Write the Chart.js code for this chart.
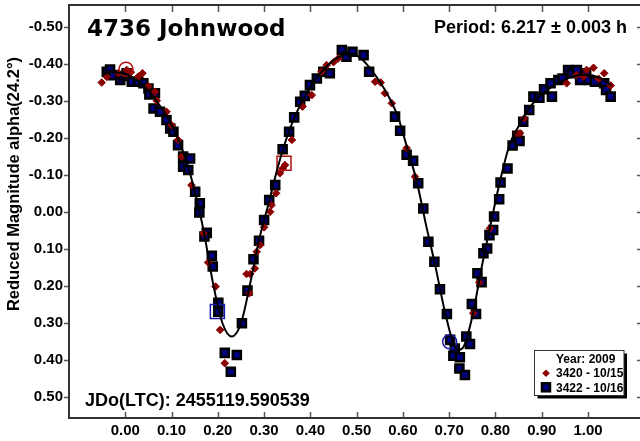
<!DOCTYPE html>
<html><head><meta charset="utf-8">
<script src="https://cdn.jsdelivr.net/npm/chart.js@4/dist/chart.umd.min.js"></script>
<style>html,body{margin:0;padding:0;overflow:hidden;background:#fff;width:640px;height:441px}canvas{display:block}</style>
</head><body>
<canvas id="c" width="650" height="441" style="width:650px;height:441px"></canvas>
<script>
const titleText = '4736 Johnwood';
const periodText = 'Period: 6.217 \u00b1 0.003 h';
const epochText = 'JDo(LTC): 2455119.590539';
const yAxisTitle = 'Reduced Magnitude alpha(24.2\u00b0)';
const legendTitle = 'Year: 2009';
const seriesNames = ['3420 - 10/15', '3422 - 10/16'];

const xTicks = [0, 0.1, 0.2, 0.3, 0.4, 0.5, 0.6, 0.7, 0.8, 0.9, 1.0];
const yTicks = [-0.5, -0.4, -0.3, -0.2, -0.1, 0, 0.1, 0.2, 0.3, 0.4, 0.5];

// Session 3420 (10/15) - diamonds
const phase3420 = [-0.051,-0.040,-0.015,0.003,0.012,0.028,0.037,0.050,0.064,0.068,
  0.089,0.100,0.114,0.122,0.143,0.169,0.179,0.195,0.205,0.215,
  0.262,0.270,0.268,0.280,0.284,0.291,0.300,0.313,0.316,0.326,
  0.334,0.340,0.345,0.360,0.383,0.403,0.424,0.435,0.450,0.460,
  0.540,0.552,0.561,0.576,0.608,0.626,0.752,0.765,0.788,0.846,
  0.853,0.862,0.954,0.975,0.990,0.997,1.012,1.023,1.035,1.049];
const mag3420 = [-0.350,-0.365,-0.375,-0.384,-0.378,-0.366,-0.375,-0.340,-0.325,-0.301,
  -0.271,-0.235,-0.195,-0.150,-0.073,0.057,0.136,0.201,0.318,0.408,
  0.167,0.167,0.219,0.152,0.107,0.089,0.041,-0.001,-0.019,-0.051,
  -0.105,-0.118,-0.127,-0.195,-0.285,-0.316,-0.379,-0.397,-0.405,-0.415,
  -0.352,-0.350,-0.321,-0.294,-0.173,-0.096,0.273,0.190,0.044,-0.213,
  -0.213,-0.253,-0.348,-0.370,-0.366,-0.384,-0.390,-0.360,-0.375,-0.342];

// Session 3422 (10/16) - squares
const phase3422 = [-0.040,-0.033,-0.026,-0.011,-0.004,0.003,0.014,0.028,0.039,0.050,
  0.052,0.064,0.061,0.075,0.089,0.097,0.104,0.114,0.125,0.140,
  0.125,0.136,0.151,0.161,0.160,0.176,0.171,0.187,0.189,0.201,
  0.201,0.215,0.241,0.228,0.252,0.264,0.277,0.289,0.300,0.311,
  0.324,0.340,0.354,0.365,0.378,0.388,0.399,0.414,0.428,0.442,
  0.468,0.478,0.491,0.515,0.527,0.583,0.594,0.608,0.622,0.633,
  0.644,0.655,0.668,0.680,0.695,0.702,0.712,0.709,0.723,0.722,
  0.734,0.737,0.745,0.749,0.758,0.761,0.770,0.774,0.782,0.787,
  0.795,0.797,0.808,0.811,0.826,0.837,0.847,0.852,0.860,0.873,
  0.882,0.895,0.905,0.922,0.919,0.936,0.945,0.957,0.965,0.976,
  0.983,0.996,1.001,1.015,1.035,1.039,1.049];
const mag3422 = [-0.379,-0.385,-0.370,-0.357,-0.368,-0.375,-0.352,-0.352,-0.348,-0.334,
  -0.318,-0.321,-0.280,-0.271,-0.249,-0.226,-0.217,-0.181,-0.150,-0.145,
  -0.123,-0.114,-0.055,-0.024,0.001,0.056,0.066,0.118,0.147,0.245,
  0.269,0.380,0.386,0.431,0.300,0.212,0.127,0.077,0.021,-0.033,
  -0.073,-0.170,-0.217,-0.256,-0.298,-0.314,-0.343,-0.361,-0.379,-0.375,
  -0.438,-0.420,-0.433,-0.424,-0.379,-0.258,-0.220,-0.155,-0.139,-0.078,
  -0.010,0.080,0.134,0.208,0.275,0.345,0.368,0.388,0.392,0.422,
  0.440,0.336,0.356,0.248,0.275,0.165,0.189,0.111,0.098,0.062,
  0.048,0.012,-0.035,-0.080,-0.118,-0.180,-0.206,-0.192,-0.244,-0.276,
  -0.312,-0.309,-0.332,-0.312,-0.348,-0.357,-0.361,-0.384,-0.375,-0.384,
  -0.357,-0.375,-0.357,-0.352,-0.348,-0.330,-0.312];

// Session start / end markers
const mark3420Phase = [0.0015, 0.343];
const mark3420Mag = [-0.386, -0.132];
const mark3422Phase = [0.199, 0.701];
const mark3422Mag = [0.268, 0.350];

// Fourier fit curve
const fitPhase = [-0.05,-0.03,-0.01,0.01,0.03,0.05,0.07,0.09,0.11,0.13,
  0.15,0.17,0.19,0.21,0.23,0.25,0.27,0.29,0.31,0.33,
  0.35,0.37,0.39,0.41,0.43,0.45,0.47,0.49,0.51,0.53,
  0.55,0.57,0.59,0.61,0.63,0.65,0.67,0.69,0.71,0.72,
  0.73,0.75,0.77,0.79,0.81,0.83,0.85,0.87,0.89,0.91,
  0.93,0.95,0.97,0.99,1.01,1.03,1.05];
const fitMag = [-0.372,-0.378,-0.376,-0.368,-0.352,-0.328,-0.296,-0.258,-0.210,-0.145,
  -0.058,0.055,0.195,0.300,0.336,0.300,0.192,0.070,-0.025,-0.123,
  -0.205,-0.268,-0.318,-0.357,-0.387,-0.410,-0.424,-0.428,-0.414,-0.387,
  -0.352,-0.310,-0.255,-0.170,-0.082,0.035,0.145,0.265,0.358,0.372,
  0.366,0.282,0.150,0.030,-0.085,-0.180,-0.232,-0.275,-0.307,-0.328,
  -0.345,-0.358,-0.367,-0.371,-0.369,-0.360,-0.343];

const zip = (xs, ys) => xs.map((x, i) => ({x: x, y: ys[i]}));
const FONT = '"Liberation Sans", Arial, sans-serif';
const RED = '#8B0000';
const NAVY = '#00007F';

const decor = {
  id: 'decor',
  afterDatasetsDraw(chart) {
    const ctx = chart.ctx;
    const a = chart.chartArea;
    const xs = chart.scales.x, ys = chart.scales.y;
    ctx.save();
    // ticks
    ctx.strokeStyle = '#555';
    ctx.lineWidth = 1.5;
    ctx.beginPath();
    xTicks.forEach(v => {
      const px = Math.round(xs.getPixelForValue(v)) + 0.5;
      ctx.moveTo(px, a.bottom); ctx.lineTo(px, a.bottom - 6);
      ctx.moveTo(px, a.top); ctx.lineTo(px, a.top + 7);
    });
    yTicks.forEach(v => {
      const py = Math.round(ys.getPixelForValue(v)) + 0.5;
      ctx.moveTo(a.left - 5, py); ctx.lineTo(a.left, py);
      ctx.moveTo(a.right, py); ctx.lineTo(a.right - 5, py);
    });
    ctx.stroke();
    // frame
    ctx.strokeStyle = '#333';
    ctx.lineWidth = 2;
    ctx.strokeRect(a.left, a.top, a.right - a.left, a.bottom - a.top);
    // texts
    ctx.fillStyle = '#000';
    ctx.textBaseline = 'alphabetic';
    ctx.textAlign = 'left';
    ctx.font = 'bold 23px "DejaVu Sans", sans-serif';
    ctx.fillText(titleText, 87, 36);
    ctx.font = 'bold 18px ' + FONT;
    ctx.textAlign = 'right';
    ctx.fillText(periodText, 627, 32.5);
    ctx.textAlign = 'left';
    ctx.fillText(epochText, 85, 406);
    // y axis title
    ctx.save();
    ctx.translate(19, 184);
    ctx.rotate(-Math.PI / 2);
    ctx.textAlign = 'center';
    ctx.font = 'bold 16.5px ' + FONT;
    ctx.fillText(yAxisTitle, 0, 0);
    ctx.restore();
    // legend
    const lx = 534.5, ly = 350.5, lw = 89.5, lh = 45;
    ctx.fillStyle = '#000';
    ctx.fillRect(lx + 3, ly + 3, lw, lh);
    ctx.fillStyle = '#fff';
    ctx.fillRect(lx, ly, lw, lh);
    ctx.strokeStyle = '#333';
    ctx.lineWidth = 1;
    ctx.strokeRect(lx, ly, lw, lh);
    ctx.fillStyle = '#000';
    ctx.font = 'bold 12px ' + FONT;
    ctx.textAlign = 'left';
    ctx.fillText(legendTitle, 556, 363.3);
    ctx.fillText(seriesNames[0], 556, 377.3);
    ctx.fillText(seriesNames[1], 556, 391.7);
    // legend markers
    ctx.fillStyle = RED;
    ctx.beginPath();
    ctx.moveTo(546, 369.5); ctx.lineTo(549.8, 373.3); ctx.lineTo(546, 377.1); ctx.lineTo(542.2, 373.3);
    ctx.closePath(); ctx.fill();
    ctx.fillStyle = NAVY;
    ctx.strokeStyle = '#000';
    ctx.lineWidth = 2.5;
    ctx.fillRect(542, 383.3, 8, 8);
    ctx.strokeRect(542, 383.3, 8, 8);
    ctx.restore();
  }
};

const zeroPad = s => { s.paddingTop = 0; s.paddingBottom = 0; s.paddingLeft = 0; s.paddingRight = 0; };

new Chart(document.getElementById('c'), {
  type: 'scatter',
  data: {
    datasets: [
      {
        type: 'line', label: 'fit', data: zip(fitPhase, fitMag),
        borderColor: '#000', borderWidth: 2, pointRadius: 0, fill: false,
        cubicInterpolationMode: 'monotone', order: 0
      },
      {
        label: 'start/end 3420', data: zip(mark3420Phase, mark3420Mag),
        pointStyle: ['circle', 'rect'], pointRadius: [7, 9.9],
        backgroundColor: 'rgba(0,0,0,0)', borderColor: '#B01010', borderWidth: 1.5, order: 0
      },
      {
        label: 'start/end 3422', data: zip(mark3422Phase, mark3422Mag),
        pointStyle: ['rect', 'circle'], pointRadius: [9.9, 7],
        backgroundColor: 'rgba(0,0,0,0)', borderColor: '#1a1aa8', borderWidth: 1.5, order: 0
      },
      {
        label: seriesNames[0], data: zip(phase3420, mag3420),
        pointStyle: 'rectRot', pointRadius: 3.8, backgroundColor: RED, borderColor: RED, borderWidth: 1, order: 1
      },
      {
        label: seriesNames[1], data: zip(phase3422, mag3422),
        pointStyle: 'rect', pointRadius: 5.7, backgroundColor: NAVY, borderColor: '#000', borderWidth: 2.5, order: 2
      }
    ]
  },
  options: {
    responsive: false,
    animation: false,
    events: [],
    layout: { autoPadding: false, padding: { left: 0, right: 8, top: 5, bottom: 0 } },
    plugins: { legend: { display: false }, tooltip: { enabled: false }, title: { display: false } },
    scales: {
      x: {
        type: 'linear', position: 'bottom', min: -0.1217, max: 1.1167,
        grid: { display: false, drawTicks: false }, border: { display: false },
        afterBuildTicks: s => { s.ticks = xTicks.map(v => ({value: v})); },
        afterFit: s => { s.height = 23; zeroPad(s); },
        ticks: {
          autoSkip: false, maxRotation: 0, padding: 4, color: '#000',
          font: { family: FONT, size: 15, weight: 'bold' },
          callback: v => Number(v).toFixed(2)
        }
      },
      y: {
        type: 'linear', position: 'left', reverse: true, min: -0.5594, max: 0.5559,
        grid: { display: false, drawTicks: false }, border: { display: false },
        afterBuildTicks: s => { s.ticks = yTicks.map(v => ({value: v})); },
        afterFit: s => { s.width = 69; zeroPad(s); },
        ticks: {
          autoSkip: false, padding: 6, color: '#000',
          font: { family: FONT, size: 15, weight: 'bold' },
          callback: v => Number(v).toFixed(2)
        }
      }
    }
  },
  plugins: [decor]
});
</script>
</body></html>
